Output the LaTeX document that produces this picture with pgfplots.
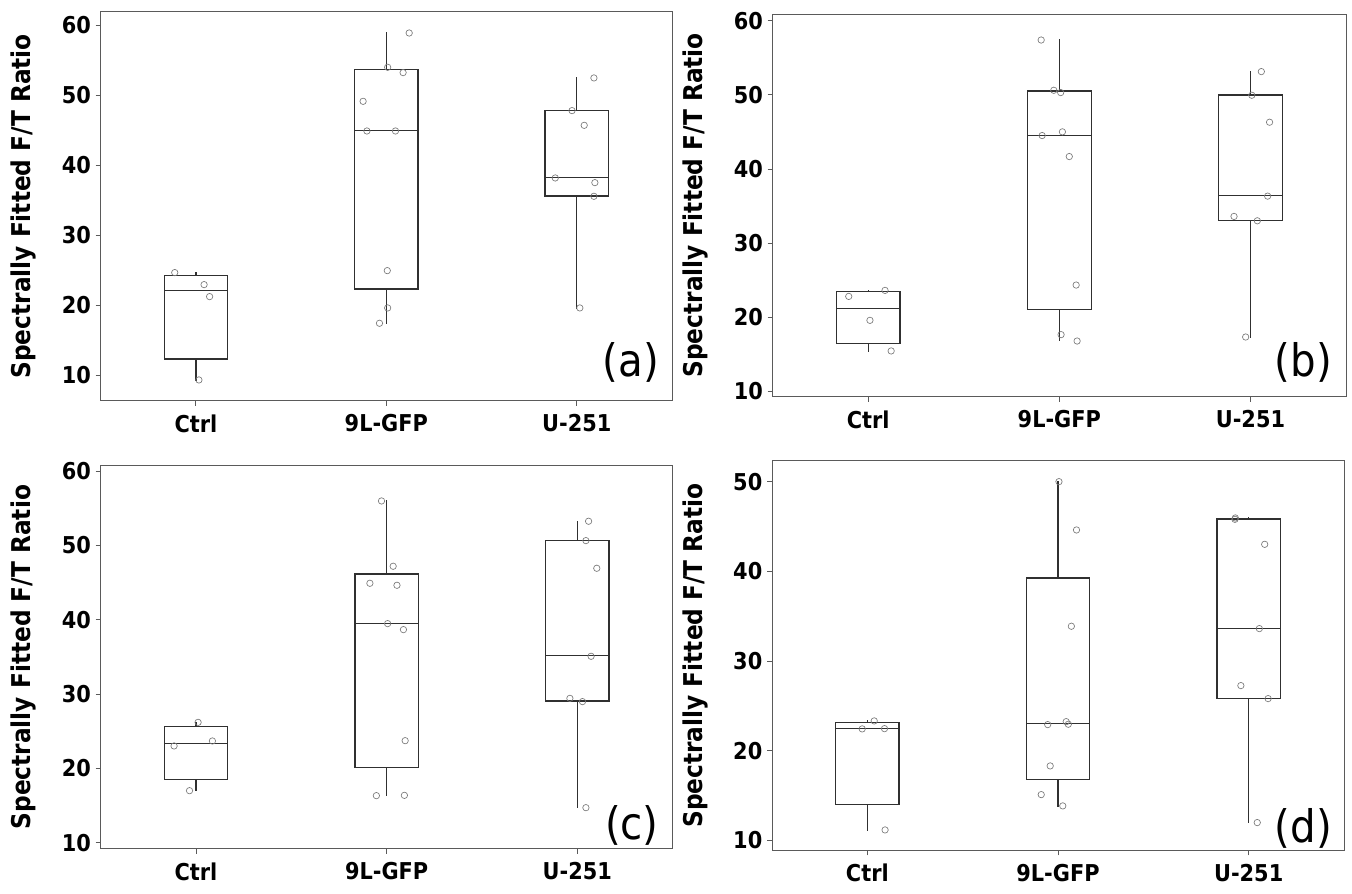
\documentclass[border=0pt]{standalone}
\usepackage{fontspec}
\setmainfont{DejaVu Sans}[FakeStretch=0.9]
\usepackage{pgfplots}
\pgfplotsset{compat=1.18}

\definecolor{framecol}{HTML}{5A5A5A}
\definecolor{boxcol}{HTML}{303030}
\definecolor{ptcol}{HTML}{7A7A7A}

\pgfplotsset{
  panel/.style={
    scale only axis,
    xmin=0.5, xmax=3.5,
    xtick={1,2,3},
    xticklabels={Ctrl,9L-GFP,U-251},
    tick align=outside,
    tick pos=left,
    major tick length=3.75pt,
    tick style={framecol, line width=0.6pt},
    axis line style={framecol, line width=0.75pt},
    /pgf/number format/assume math mode=true,
    ticklabel style={font=\fontsize{17.4}{20}\selectfont\bfseries},
    xticklabel style={yshift=-3pt},
    ylabel={Spectrally Fitted F/T Ratio},
    ylabel style={font=\fontsize{19.4}{22}\selectfont\bfseries, anchor=base},
    clip=false,
  },
  boxline/.style={draw=boxcol, line width=0.95pt, line cap=rect, mark=none},
  pts/.style={only marks, mark=o, mark size=2.4pt,
    mark options={draw=ptcol, line width=0.5pt}},
}
\tikzset{tag/.style={font=\fontsize{33.6}{36}\selectfont, anchor=base east, inner sep=0pt}}

% one box with its whiskers: position, box left, box right,
% lower whisker, lower quartile, median, upper quartile, upper whisker
\newcommand{\boxat}[8]{%
  \addplot[boxline] coordinates {(#1,#4) (#1,#5)};
  \addplot[boxline] coordinates {(#1,#7) (#1,#8)};
  \addplot[boxline] coordinates {(#2,#5) (#3,#5) (#3,#7) (#2,#7) (#2,#5)};
  \addplot[boxline] coordinates {(#2,#6) (#3,#6)};}

\begin{document}
\begin{tikzpicture}
\path[use as bounding box] (0,0) rectangle (1014pt,-669.75pt);

% (a)
\begin{axis}[panel, at={(75.5pt,-300.5pt)}, anchor=south west,
  width=428.5pt, height=291.5pt, ymin=6.37, ymax=61.9, ytick={10,20,...,60},
  ylabel style={at={(axis description cs:-0.122,0.5)}}]
\boxat{1}{0.8333}{1.1667}{9.33}{12.33}{22.14}{24.29}{24.67}
\boxat{2}{1.8333}{2.1667}{17.43}{22.33}{44.95}{53.67}{58.9}
\boxat{3}{2.8333}{3.1667}{19.62}{35.62}{38.24}{47.86}{52.48}
\addplot[pts] coordinates {
  (0.889,24.67) (1.043,22.95) (1.072,21.24) (1.016,9.33)
  (2.12,58.9) (2.007,54.0) (2.088,53.24) (1.878,49.14) (1.898,44.9)
  (2.048,44.9) (2.005,24.95) (2.007,19.62) (1.964,17.43)
  (3.09,52.48) (2.975,47.81) (3.039,45.71) (2.887,38.19) (3.095,37.52)
  (3.09,35.57) (3.016,19.62)
};
\node[tag] at (rel axis cs:0.978,0.061) {(a)};
\end{axis}

% (b)
\begin{axis}[panel, at={(579.5pt,-297.5pt)}, anchor=south west,
  width=430pt, height=287pt, ymin=9.27, ymax=60.9, ytick={10,20,...,60},
  ylabel style={at={(axis description cs:-0.123,0.5)}}]
\boxat{1}{0.8333}{1.1667}{15.44}{16.47}{21.19}{23.43}{23.61}
\boxat{2}{1.8333}{2.1667}{16.83}{21.01}{44.55}{50.52}{57.39}
\boxat{3}{2.8333}{3.1667}{17.32}{33.05}{36.37}{49.98}{53.13}
\addplot[pts] coordinates {
  (0.898,22.8) (1.088,23.61) (1.009,19.57) (1.12,15.44)
  (1.905,57.39) (1.971,50.61) (2.007,50.3) (1.91,44.5) (2.016,45.0)
  (2.052,41.67) (2.088,24.33) (2.009,17.64) (2.093,16.78)
  (3.057,53.13) (3.007,49.94) (3.1,46.3) (3.09,36.33) (2.914,33.59)
  (3.036,33.0) (2.975,17.32)
};
\node[tag] at (rel axis cs:0.976,0.052) {(b)};
\end{axis}

% (c)
\begin{axis}[panel, at={(75.5pt,-636.5pt)}, anchor=south west,
  width=429pt, height=287.25pt, ymin=9.19, ymax=60.75, ytick={10,20,...,60},
  ylabel style={at={(axis description cs:-0.122,0.5)}}]
\boxat{1}{0.8333}{1.1667}{17.0}{18.53}{23.38}{25.62}{26.2}
\boxat{2}{1.8333}{2.1667}{16.37}{20.14}{39.49}{46.18}{56.0}
\boxat{3}{2.8333}{3.1667}{14.8}{29.08}{35.18}{50.66}{53.27}
\addplot[pts] coordinates {
  (1.011,26.2) (0.885,23.02) (1.086,23.69) (0.966,17.0)
  (1.973,56.0) (2.034,47.21) (1.912,44.92) (2.054,44.65) (2.005,39.49)
  (2.088,38.68) (2.097,23.73) (1.946,16.33) (2.093,16.37)
  (3.059,53.27) (3.045,50.66) (3.102,46.94) (3.072,35.09) (2.961,29.43)
  (3.027,28.99) (3.045,14.71)
};
\node[tag] at (rel axis cs:0.976,0.025) {(c)};
\end{axis}

% (d)
\begin{axis}[panel, at={(579pt,-637.7pt)}, anchor=south west,
  width=429pt, height=292.2pt, ymin=8.88, ymax=52.34, ytick={10,20,...,50},
  ylabel style={at={(axis description cs:-0.122,0.5)}}]
\boxat{1}{0.8333}{1.1667}{11.15}{14.01}{22.49}{23.16}{23.38}
\boxat{2}{1.8333}{2.1667}{13.83}{16.8}{23.01}{39.26}{50.0}
\boxat{3}{2.8333}{3.1667}{12.04}{25.84}{33.64}{45.84}{45.95}
\addplot[pts] coordinates {
  (1.036,23.31) (0.973,22.42) (1.09,22.45) (1.093,11.15)
  (2.005,50.0) (2.097,44.61) (2.07,33.87) (1.946,22.9) (2.043,23.23)
  (2.054,22.94) (1.959,18.29) (1.912,15.09) (2.025,13.83)
  (2.93,45.95) (2.928,45.8) (3.084,43.01) (3.056,33.61) (2.959,27.25)
  (3.102,25.8) (3.045,11.97)
};
\node[tag] at (rel axis cs:0.979,0.021) {(d)};
\end{axis}
\end{tikzpicture}
\end{document}
